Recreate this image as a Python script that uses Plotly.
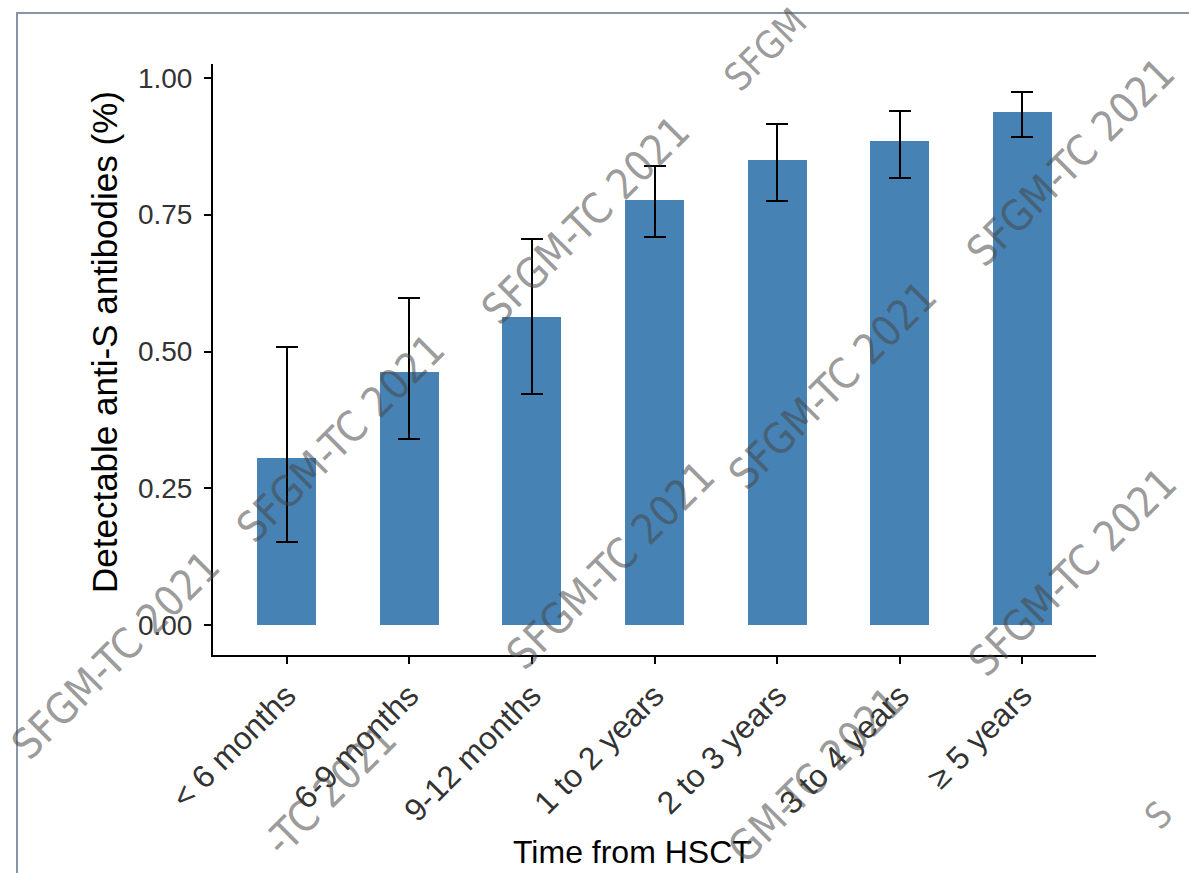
import plotly.graph_objects as go

categories = ["< 6 months", "6-9 months", "9-12 months", "1 to 2 years",
              "2 to 3 years", "3 to 4 years", "≥ 5 years"]
proportion = [0.305, 0.463, 0.564, 0.776, 0.850, 0.884, 0.938]
ci_upper = [0.508, 0.598, 0.705, 0.838, 0.915, 0.940, 0.974]
ci_lower = [0.153, 0.341, 0.422, 0.709, 0.774, 0.816, 0.891]
y_ticks = [0.0, 0.25, 0.5, 0.75, 1.0]
y_tick_labels = ["0.00", "0.25", "0.50", "0.75", "1.00"]
watermark = "SFGM-TC 2021"

W, H = 1189, 873
L, R, T, B = 213, 93, 64, 218
PW, PH = W - L - R, H - T - B


def px2paper(x, y):
    return (x - L) / PW, (H - B - y) / PH


fig = go.Figure()
fig.add_trace(go.Bar(
    x=list(range(len(categories))),
    y=proportion,
    width=0.48,
    marker=dict(color="#4682B4", line=dict(width=0)),
    error_y=dict(
        type="data", symmetric=False,
        array=[u - p for u, p in zip(ci_upper, proportion)],
        arrayminus=[p - lo for p, lo in zip(proportion, ci_lower)],
        color="black", thickness=2, width=11,
    ),
    hoverinfo="skip",
))

font_family = "Liberation Sans, Arial, sans-serif"
fig.update_layout(
    width=W, height=H,
    margin=dict(l=L, r=R, t=T, b=B, pad=0),
    paper_bgcolor="white", plot_bgcolor="white",
    showlegend=False,
    font=dict(family=font_family, size=22, color="#333333"),
    bargap=0,
)
fig.update_xaxes(
    range=[-0.6, 6.6],
    tickmode="array", tickvals=list(range(len(categories))), ticktext=categories,
    tickangle=-45, ticks="outside", ticklen=7, tickwidth=2, tickcolor="black",
    showline=True, linecolor="black", linewidth=2,
    showgrid=False, zeroline=False,
    tickfont=dict(size=32, color="#333333"),
)
fig.update_yaxes(
    range=[-0.054, 1.025],
    tickmode="array", tickvals=y_ticks, ticktext=y_tick_labels,
    ticks="outside", ticklen=7, tickwidth=2, tickcolor="black",
    showline=True, linecolor="black", linewidth=2,
    showgrid=False, zeroline=False,
    tickfont=dict(size=28, color="#333333"),
    ticklabelstandoff=6,
)

annotations = []
# axis titles
xt, _ = px2paper(632, 0)
annotations.append(dict(text="Time from HSCT", xref="paper", yref="paper",
                        x=xt, y=0, xanchor="center", yanchor="middle",
                        yshift=-(852 - (H - B)), showarrow=False,
                        font=dict(size=32, color="black", family=font_family)))
annotations.append(dict(text="Detectable anti-S antibodies (%)", xref="paper", yref="paper",
                        x=0, y=0.5, xanchor="center", yanchor="middle",
                        xshift=104 - L, yshift=-(342 - (T + PH / 2)), textangle=-90,
                        showarrow=False,
                        font=dict(size=35, color="black", family=font_family)))

# watermark stamps: (text, centre x px, centre y px, size)
wm_marks = [
    (watermark, 585, 220, 42), (watermark, 1070, 162, 42), (watermark, 340, 438, 42),
    (watermark, 832, 385, 42), (watermark, 115, 655, 42), (watermark, 610, 565, 42),
    (watermark, 1072, 572, 42), ("SFGM", 765, 50, 38), ("-TC 2021", 330, 790, 42),
    ("GM-TC 2021", 815, 775, 42), ("S", 1158, 815, 36),
]
for txt, cx, cy, sz in wm_marks:
    xp, yp = px2paper(cx, cy)
    annotations.append(dict(text=txt, xref="paper", yref="paper",
                            x=xp, y=yp, xanchor="center", yanchor="middle",
                            textangle=-45, showarrow=False,
                            font=dict(size=sz, color="rgba(70,70,70,0.55)",
                                      family="Liberation Sans Narrow, DejaVu Sans Condensed, sans-serif")))
fig.update_layout(annotations=annotations)

# outer frame (left and top edges visible)
x0, y0 = px2paper(17, 13)
x1, y1 = px2paper(W + 20, H + 20)
fig.add_shape(type="rect", xref="paper", yref="paper", x0=x0, y0=y1, x1=x1, y1=y0,
              line=dict(color="#8696a6", width=2), fillcolor="rgba(0,0,0,0)", layer="below")

fig.write_html("out.html")
